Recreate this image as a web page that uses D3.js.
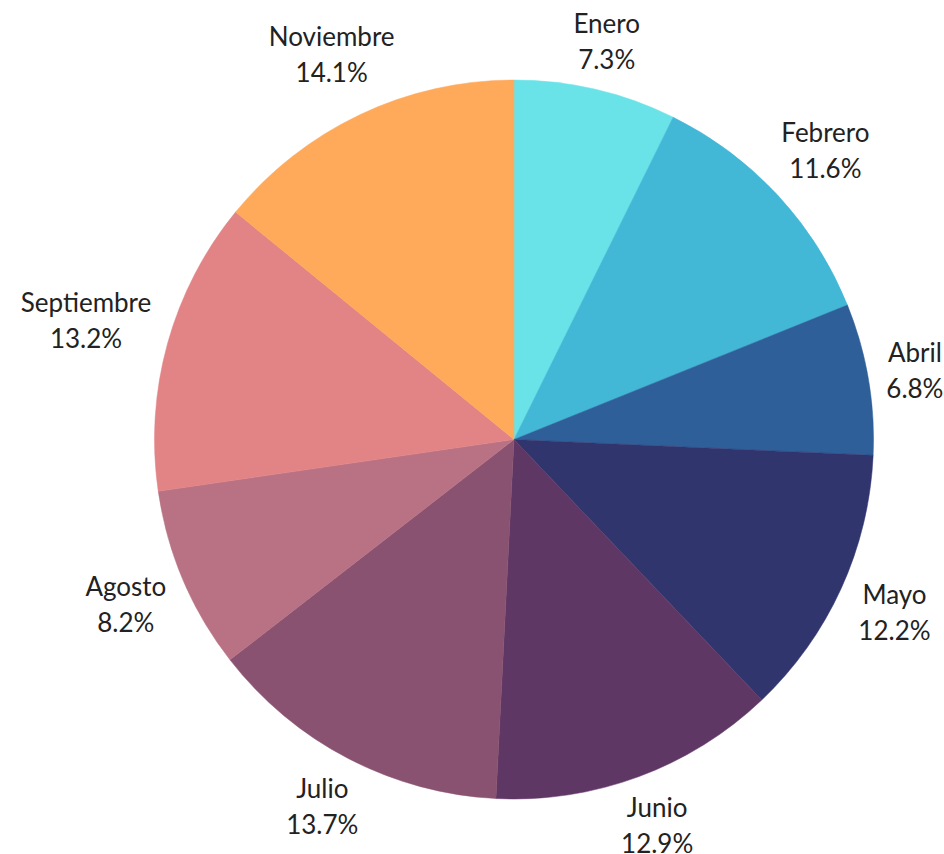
<!DOCTYPE html>
<html>
<head>
<meta charset="utf-8">
<script src="https://cdn.jsdelivr.net/npm/d3@7"></script>
<style>
  html, body { margin: 0; padding: 0; background: #fff; }
  svg { display: block; }
  text { font-family: Lato, "Noto Sans", sans-serif; }
</style>
</head>
<body>
<svg id="chart" width="944" height="854"></svg>
<script>
const categories = ["Enero", "Febrero", "Abril", "Mayo", "Junio", "Julio", "Agosto", "Septiembre", "Noviembre"];
const values = [7.3, 11.6, 6.8, 12.2, 12.9, 13.7, 8.2, 13.2, 14.1];
const colors = ["#69e3e8", "#42b7d6", "#2f5f98", "#31356e", "#5f3765", "#8a5271", "#b97284", "#e28385", "#ffa95b"];

const W = 944, H = 854;
const cx = 514, cy = 439.5, R = 359.5;
const fontSize = 26, lineGap = 36, halfH = 27, pad = 14.5;

const svg = d3.select("#chart");
const g = svg.append("g").attr("transform", `translate(${cx},${cy})`);

const data = categories.map((c, i) => ({ name: c, value: values[i], color: colors[i] }));
const pie = d3.pie().sort(null).value(d => d.value);
const arcs = pie(data);
const arc = d3.arc().innerRadius(0).outerRadius(R);

g.selectAll("path.slice")
  .data(arcs)
  .join("path")
  .attr("class", "slice")
  .attr("d", arc)
  .attr("fill", d => d.data.color)
  .attr("stroke", d => d.data.color)
  .attr("stroke-width", 0.5);

const labels = g.selectAll("text.lbl")
  .data(arcs)
  .join("text")
  .attr("class", "lbl")
  .attr("text-anchor", "middle")
  .attr("font-size", fontSize)
  .attr("fill", "#222");

labels.each(function(d) {
  const t = d3.select(this);
  const l1 = t.append("tspan").attr("x", 0).text(d.data.name);
  const l2 = t.append("tspan").attr("x", 0).text(d3.format(".1f")(d.data.value) + "%");
  const w = Math.max(l1.node().getComputedTextLength(), l2.node().getComputedTextLength());
  const a = (d.startAngle + d.endAngle) / 2;
  const ux = Math.sin(a), uy = -Math.cos(a);
  const dist = R + pad + Math.abs(ux) * w / 2 + Math.abs(uy) * halfH;
  const px = ux * dist, py = uy * dist;
  t.attr("transform", `translate(${px},${py})`);
  l1.attr("y", -9);
  l2.attr("y", -9 + lineGap);
});
</script>
</body>
</html>
